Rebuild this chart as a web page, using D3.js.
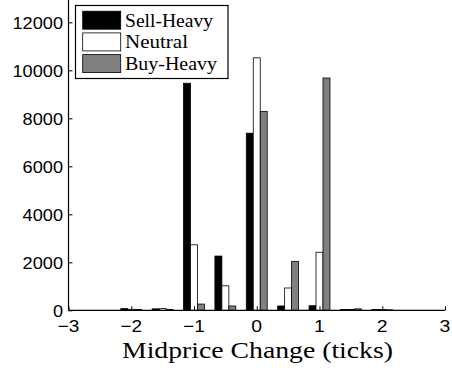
<!DOCTYPE html>
<html>
<head>
<meta charset="utf-8">
<script src="https://cdn.jsdelivr.net/npm/d3@7"></script>
<style>
  body { margin: 0; background: #fff; }
  svg { display: block; }
</style>
</head>
<body>
<div id="chart"></div>
<script>
// Midprice change buckets (ticks) and counts per order-flow class
const centers = [-2, -1.5, -1, -0.5, 0, 0.5, 1, 1.5, 2];
const seriesNames = ["Sell-Heavy", "Neutral", "Buy-Heavy"];
const sellHeavy = [70, 60, 9460, 2260, 7380, 180, 190, 30, 30];
const neutral = [40, 70, 2730, 1020, 10520, 930, 2420, 30, 30];
const buyHeavy = [30, 40, 260, 180, 8290, 2040, 9680, 60, 20];
const xTicks = [-3, -2, -1, 0, 1, 2, 3];
const yTicks = [0, 2000, 4000, 6000, 8000, 10000, 12000];

const colors = ["#000000", "#ffffff", "#808080"];
const labelWidths = [88, 63, 92];
const W = 452, H = 371;

const svg = d3.select("#chart").append("svg")
    .attr("width", W)
    .attr("height", H);

// scales
const x = d3.scaleLinear().domain([-3, 3]).range([68.5, 445]);
const y = d3.scaleLinear().domain([0, 13000]).range([310.3, -1.7]);

// grouped bar layout, like MATLAB: group width 2/3 of the spacing
const spacing = 0.5;
const groupW = spacing * 3 / 4.5;
const barW = groupW / 3;

const allSeries = [sellHeavy, neutral, buyHeavy];
const bars = [];
allSeries.forEach((vals, s) => {
    vals.forEach((v, i) => {
        bars.push({ s: s, x0: centers[i] - groupW / 2 + s * barW, v: v });
    });
});

svg.append("g").selectAll("rect")
    .data(bars)
    .join("rect")
    .attr("x", d => x(d.x0))
    .attr("y", d => y(d.v))
    .attr("width", d => x(d.x0 + barW) - x(d.x0))
    .attr("height", d => y(0) - y(d.v))
    .attr("fill", d => colors[d.s])
    .attr("stroke", "#000")
    .attr("stroke-width", 0.8);

// axes
const xAxis = svg.append("g")
    .attr("transform", `translate(0,${y(0)})`)
    .call(d3.axisTop(x).tickValues(xTicks).tickSize(4).tickFormat(""));
xAxis.select(".domain").attr("d", `M${x(-3)},0H${x(3)}`).attr("stroke-width", 1.2);

const tickFmt = d => d < 0 ? "\u2212" + Math.abs(d) : String(d);

svg.append("g").selectAll("text")
    .data(xTicks)
    .join("text")
    .attr("x", d => x(d))
    .attr("y", 332.3)
    .attr("text-anchor", "middle")
    .attr("textLength", d => tickFmt(d).length * 10.8)
    .attr("lengthAdjust", "spacingAndGlyphs")
    .style("font-family", "'Liberation Sans', Arial, sans-serif")
    .style("font-size", "17px")
    .text(tickFmt);

const yAxis = svg.append("g")
    .attr("transform", `translate(${x(-3)},0)`)
    .call(d3.axisRight(y).tickValues(yTicks).tickSize(4).tickFormat(""));
yAxis.select(".domain").attr("d", `M0,${y(0)}V0`).attr("stroke-width", 1.2);

svg.append("g").selectAll("text")
    .data(yTicks)
    .join("text")
    .attr("x", 63)
    .attr("y", d => y(d) + 6.3)
    .attr("text-anchor", "end")
    .attr("textLength", d => String(d).length * 10.1)
    .attr("lengthAdjust", "spacingAndGlyphs")
    .style("font-family", "'Liberation Sans', Arial, sans-serif")
    .style("font-size", "17px")
    .text(d => d);

// x label
svg.append("text")
    .attr("x", 257.5)
    .attr("y", 358)
    .attr("text-anchor", "middle")
    .attr("textLength", 271)
    .attr("lengthAdjust", "spacingAndGlyphs")
    .style("font-family", "'Liberation Serif', 'DejaVu Serif', serif")
    .style("font-size", "24px")
    .text("Midprice Change (ticks)");

// legend
const legend = svg.append("g");
legend.append("rect")
    .attr("x", 75.5).attr("y", 5.5)
    .attr("width", 152.5).attr("height", 73)
    .attr("fill", "#fff")
    .attr("stroke", "#000")
    .attr("stroke-width", 1.2);

const items = legend.selectAll("g.item")
    .data(seriesNames)
    .join("g")
    .attr("class", "item")
    .attr("transform", (d, i) => `translate(0,${i * 21.7})`);

items.append("rect")
    .attr("x", 82.7).attr("y", 11.2)
    .attr("width", 38).attr("height", 18)
    .attr("fill", (d, i) => colors[i])
    .attr("stroke", "#000")
    .attr("stroke-width", 0.8);

items.append("text")
    .attr("x", 125)
    .attr("y", 26.5)
    .attr("textLength", (d, i) => labelWidths[i])
    .attr("lengthAdjust", "spacingAndGlyphs")
    .style("font-family", "'Liberation Serif', 'DejaVu Serif', serif")
    .style("font-size", "18px")
    .text(d => d);
</script>
</body>
</html>
